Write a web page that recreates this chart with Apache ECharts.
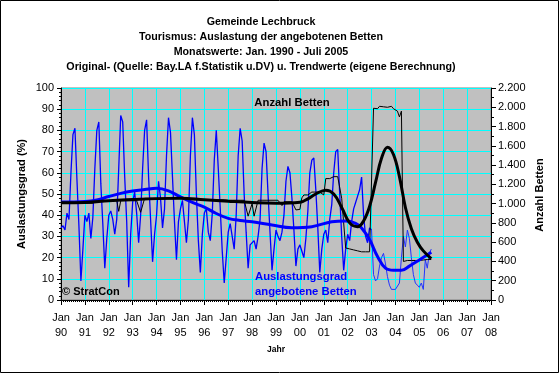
<!DOCTYPE html>
<html><head><meta charset="utf-8">
<script src="https://cdn.jsdelivr.net/npm/echarts@6/dist/echarts.min.js"></script>
<style>html,body{margin:0;padding:0;background:#fff}#c{width:560px;height:374px}</style>
</head><body><div id="c"></div>
<script>
// x axis: months since Jan 1990, labelled every January
const yearLabels = ['90','91','92','93','94','95','96','97','98','99','00','01','02','03','04','05','06','07','08'];

// Auslastungsgrad (%) monthly, Jan 1990 - Jul 2005
const auslastung = [
  34,35,33,41,38,60,78,81,57,35,9,24,
  40,37,41,29,39,62,80,84,55,36,15,29,
  40,42,38,31,38,62,87,84,58,37,6,31,
  46,51,41,27,40,62,80,85,58,38,18,31,
  40,56,48,34,43,68,86,79,58,37,19,37,
  43,47,37,27,38,68,86,78,50,28,13,31,
  41,43,32,28,41,66,80,62,43,23,8,20,
  32,36,30,24,40,68,81,75,50,32,15,26,
  26,28,24,30,38,62,74,70,50,32,14,24,
  33,30,28,32,40,56,63,60,48,33,16,24,
  26,23,20,29,42,60,66,67,52,34,13,24,
  31,33,27,38,45,60,70,71,50,30,14,24,
  31,28,37,43,46,49,52,58,40,30,27,34,
  33,12,9,10,16,20,22,17,11,7,5,5,
  5,5,8,20,30,25,33,29,20,12,8,7,
  6,8,5,19,15,22,24
];

// Anzahl Betten monthly, Jan 1990 - Jul 2005
const betten = [
  1005,1005,1005,1005,1005,1005,1005,1005,1005,1005,1005,1005,
  1005,1005,1005,1005,1005,1005,1030,1030,1030,1030,1030,1030,
  1030,1030,1030,1030,1030,920,1030,1030,1030,1030,1030,1030,
  1030,1030,1030,1030,910,910,1055,1055,1055,1055,1055,1055,
  1055,1055,1055,1055,1055,1055,1055,1055,1055,1055,1055,1055,
  1055,1055,1050,1050,1045,1045,1040,1040,1040,1040,1040,1040,
  1040,1040,1040,1040,1040,1040,1040,1040,1040,1040,1040,1040,
  1035,1035,1035,1035,1035,1035,1035,1035,1035,1035,870,880,
  1000,870,885,1035,1035,1035,1035,1035,1035,1035,1035,1035,
  1035,1035,1035,980,1020,1020,1020,1020,1020,1020,935,935,
  940,1060,1090,1090,1090,1090,1120,1120,1120,1120,1120,1120,
  1090,1260,1260,1260,1260,1280,1280,1280,1280,1055,1055,540,
  530,530,520,520,510,510,500,500,500,500,500,500,
  500,1990,2005,1985,2010,1990,2005,1985,2000,1990,2010,1985,
  1995,1960,1900,1960,400,410,410,410,410,410,410,410,
  410,415,415,415,420,420,420
];

// Trend values (eigene Berechnung)
const auslTrendMonths = [0,12,18,24,30,36,42,48,54,60,66,72,78,84,90,96,106,116,126,136,143,148,151,155,159,163,167,171,175,180,186];
const auslTrendValues = [46.2,46.5,47.2,48.8,50.3,51.4,52.1,52.7,51.5,48.6,46,43.8,40.8,38.5,37.5,36.9,35.4,34.1,34.6,36.9,37.3,36.2,34,28.5,20.5,15,14,14,16,18.9,22.5];
const bettenTrendMonths = [0,12,24,36,48,60,72,84,96,108,120,124,128,133,137,141,145,149,152,155,158,161,164,167,170,173,176,179,182,186];
const bettenTrendValues = [1010,1012,1030,1042,1052,1055,1040,1025,1012,1005,1015,1050,1100,1140,1100,960,800,760,820,970,1220,1470,1585,1510,1280,960,740,600,510,430];

const splitMonth = 156;
const FONT = 'Liberation Sans, Arial, sans-serif';

const pairs = (arr, from, to) => arr.map((v, i) => [i, v]).filter(p => p[0] >= from && p[0] <= to);
const zip = (ms, vs) => ms.map((m, i) => [m, vs[i]]);
const fmtThousands = v => v >= 1000 ? Math.floor(v / 1000) + '.' + String(v % 1000).padStart(3, '0') : String(v);

const chart = echarts.init(document.getElementById('c'), null, {renderer: 'canvas'});
chart.setOption({
  animation: false,
  backgroundColor: '#ffffff',
  grid: {left: 61, right: 69, top: 88, bottom: 74, show: true, backgroundColor: '#C0C0C0', borderColor: '#808080', borderWidth: 1},
  xAxis: {
    type: 'value', min: 0, max: 216, interval: 12,
    axisLine: {show: true, onZero: false, lineStyle: {color: '#000', width: 1}},
    axisTick: {show: true, length: 5, lineStyle: {color: '#000'}},
    minorTick: {show: true, splitNumber: 12, length: 2, lineStyle: {color: '#000'}},
    splitLine: {show: true, lineStyle: {color: '#00FFFF', width: 1}},
    axisLabel: {color: '#000', fontFamily: FONT, fontSize: 11, lineHeight: 15, margin: 10,
      formatter: v => 'Jan\n' + yearLabels[Math.round(v / 12)]}
  },
  yAxis: [{
    type: 'value', min: 0, max: 100, interval: 10, position: 'left',
    axisLine: {show: true, lineStyle: {color: '#000'}},
    axisTick: {show: true, length: 4, lineStyle: {color: '#000'}},
    minorTick: {show: true, splitNumber: 5, length: 2, lineStyle: {color: '#000'}},
    splitLine: {show: true, lineStyle: {color: '#00FFFF', width: 1}},
    axisLabel: {color: '#000', fontFamily: FONT, fontSize: 11, margin: 7}
  }, {
    type: 'value', min: 0, max: 2200, interval: 200, position: 'right',
    axisLine: {show: true, lineStyle: {color: '#000'}},
    axisTick: {show: true, length: 5, lineStyle: {color: '#000'}},
    minorTick: {show: true, splitNumber: 2, length: 3, lineStyle: {color: '#000'}},
    splitLine: {show: false},
    axisLabel: {color: '#000', fontFamily: FONT, fontSize: 11, margin: 7, formatter: fmtThousands}
  }],
  series: [
    {type: 'line', name: 'Auslastung', data: pairs(auslastung, 0, splitMonth), symbol: 'none', lineStyle: {color: '#0000FF', width: 1.3}, z: 2},
    {type: 'line', name: 'Auslastung2', data: pairs(auslastung, splitMonth, 999), symbol: 'none', lineStyle: {color: '#2233FF', width: 1}, z: 2},
    {type: 'line', name: 'Betten', yAxisIndex: 1, data: pairs(betten, 0, 999), symbol: 'none', lineStyle: {color: '#000', width: 1}, z: 3},
    {type: 'line', name: 'AuslTrend', data: zip(auslTrendMonths, auslTrendValues), smooth: 0.4, symbol: 'none', lineStyle: {color: '#0000FF', width: 3}, z: 4},
    {type: 'line', name: 'BettenTrend', yAxisIndex: 1, data: zip(bettenTrendMonths, bettenTrendValues), smooth: 0.4, symbol: 'none', lineStyle: {color: '#000', width: 3}, z: 5}
  ],
  graphic: [
    {type: 'rect', shape: {x: 0.5, y: 0.5, width: 558, height: 372}, style: {fill: 'none', stroke: '#000', lineWidth: 1}, silent: true},
    {type: 'text', x: 261, y: 22, style: {text: 'Gemeinde Lechbruck', font: 'bold 10.7px ' + FONT, fill: '#000', textAlign: 'center', textVerticalAlign: 'middle'}},
    {type: 'text', x: 261, y: 37, style: {text: 'Tourismus: Auslastung der angebotenen Betten', font: 'bold 10.7px ' + FONT, fill: '#000', textAlign: 'center', textVerticalAlign: 'middle'}},
    {type: 'text', x: 261, y: 52, style: {text: 'Monatswerte: Jan. 1990 - Juli 2005', font: 'bold 10.7px ' + FONT, fill: '#000', textAlign: 'center', textVerticalAlign: 'middle'}},
    {type: 'text', x: 261, y: 67, style: {text: 'Original- (Quelle: Bay.LA f.Statistik u.DV) u. Trendwerte (eigene Berechnung)', font: 'bold 10.7px ' + FONT, fill: '#000', textAlign: 'center', textVerticalAlign: 'middle'}},
    {type: 'text', x: 292, y: 103, z: 10, style: {text: 'Anzahl Betten', font: 'bold 11.3px ' + FONT, fill: '#000', textAlign: 'center', textVerticalAlign: 'middle'}},
    {type: 'text', x: 255, y: 277, z: 10, style: {text: 'Auslastungsgrad', font: 'bold 11.3px ' + FONT, fill: '#0000FF', textAlign: 'left', textVerticalAlign: 'middle'}},
    {type: 'text', x: 255, y: 292, z: 10, style: {text: 'angebotene Betten', font: 'bold 11.3px ' + FONT, fill: '#0000FF', textAlign: 'left', textVerticalAlign: 'middle'}},
    {type: 'text', x: 62, y: 291.5, z: 10, style: {text: '\u00A9 StratCon', font: 'bold 11px ' + FONT, fill: '#000', textAlign: 'left', textVerticalAlign: 'middle'}},
    {type: 'text', x: 276, y: 350, style: {text: 'Jahr', font: 'bold 8.5px ' + FONT, fill: '#000', textAlign: 'center', textVerticalAlign: 'middle'}},
    {type: 'text', x: 22, y: 194, rotation: Math.PI / 2, style: {text: 'Auslastungsgrad (%)', font: 'bold 11px ' + FONT, fill: '#000', textAlign: 'center', textVerticalAlign: 'middle'}},
    {type: 'text', x: 540, y: 195, rotation: Math.PI / 2, style: {text: 'Anzahl Betten', font: 'bold 11px ' + FONT, fill: '#000', textAlign: 'center', textVerticalAlign: 'middle'}}
  ]
});
</script>
</body></html>
